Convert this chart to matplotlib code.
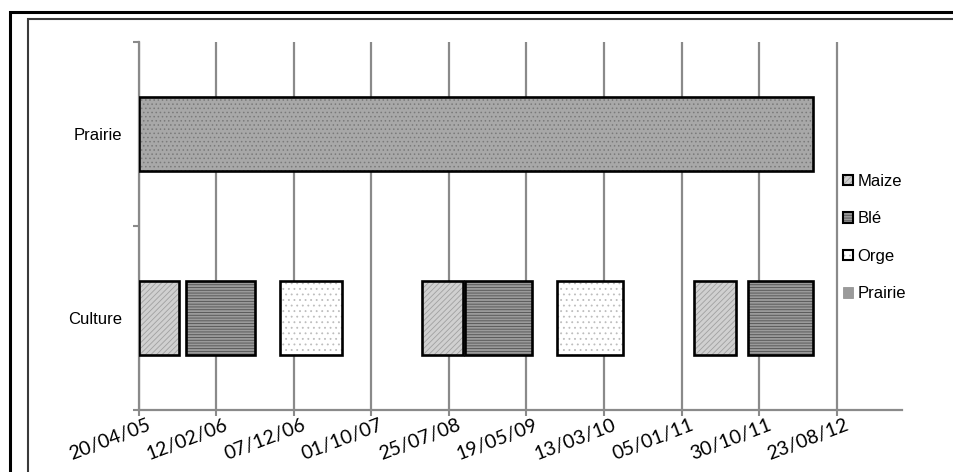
import matplotlib
matplotlib.use('Agg')
import matplotlib.pyplot as plt
import matplotlib.dates as mdates
from matplotlib.patches import Patch, Rectangle
from matplotlib.transforms import ScaledTranslation
from datetime import datetime

# ---------------- data ----------------
categories = ['Culture', 'Prairie']
tick_labels = ['20/04/05', '12/02/06', '07/12/06', '01/10/07', '25/07/08',
               '19/05/09', '13/03/10', '05/01/11', '30/10/11', '23/08/12']
axis_end = '2013-04-30'

maize_start = ['2005-04-20', '2008-04-11', '2011-02-23']
maize_end = ['2005-09-23', '2008-09-19', '2011-08-02']
ble_start = ['2005-10-21', '2008-09-26', '2011-09-18']
ble_end = ['2006-07-12', '2009-06-09', '2012-05-22']
orge_start = ['2006-10-14', '2009-09-13']
orge_end = ['2007-06-12', '2010-05-24']
prairie_start = ['2005-04-20']
prairie_end = ['2012-05-23']

series_names = ['Maize', 'Blé', 'Orge', 'Prairie']

# ---------------- figure ----------------
plt.rcParams['hatch.linewidth'] = 0.6
W, H = 954, 472
fig = plt.figure(figsize=(W / 100, H / 100), dpi=100)
ax = fig.add_axes([138.5 / W, 1 - 410 / H, (902 - 138.5) / W, (410 - 42) / H])

def dn(s, fmt='%Y-%m-%d'):
    return mdates.date2num(datetime.strptime(s, fmt))

styles = {
    'Maize': dict(face='#d0d0d0', hatch='//////', hc='#a0a0a0', cat='Culture'),
    'Blé': dict(face='#9a9a9a', hatch='------', hc='#505050', cat='Culture'),
    'Orge': dict(face='#ffffff', hatch='...', hc='#bdbdbd', cat='Culture'),
    'Prairie': dict(face='#a8a8a8', hatch='....', hc='#7a7a7a', cat='Prairie'),
}
data = {
    'Maize': (maize_start, maize_end),
    'Blé': (ble_start, ble_end),
    'Orge': (orge_start, orge_end),
    'Prairie': (prairie_start, prairie_end),
}

ypos = {c: i + 0.5 for i, c in enumerate(categories)}
handles = []
for name in series_names:
    st = styles[name]
    starts, ends = data[name]
    left = [dn(s) for s in starts]
    width = [dn(e) - dn(s) for s, e in zip(starts, ends)]
    y = [ypos[st['cat']]] * len(left)
    ax.barh(y, width, left=left, height=0.4, color=st['face'],
            edgecolor=st['hc'], linewidth=0, hatch=st['hatch'], zorder=2)
    ax.barh(y, width, left=left, height=0.4, fill=False,
            edgecolor='black', linewidth=1.9, zorder=3)
    if name == 'Prairie':
        handles.append(Patch(facecolor='#9a9a9a', edgecolor='#8a8a8a', linewidth=0.5))
    else:
        h1 = Patch(facecolor=st['face'], edgecolor=st['hc'], linewidth=0, hatch=st['hatch'])
        h2 = Patch(fill=False, edgecolor='black', linewidth=1.5)
        handles.append((h1, h2))

gray = '#8a8a8a'
ax.set_xlim(dn(tick_labels[0], '%d/%m/%y'), dn(axis_end))
ax.set_ylim(0, 2)

tick_pos = [dn(t, '%d/%m/%y') for t in tick_labels]
ax.set_xticks(tick_pos)
ax.set_xticklabels(tick_labels, rotation=21, ha='right', va='center',
                   rotation_mode='anchor', fontsize=14, family=['Lato', 'DejaVu Sans'])
ax.tick_params(axis='x', length=4.5, width=1.5, color=gray, pad=2)
ax.grid(axis='x', color=gray, linewidth=1.6)
ax.set_axisbelow(True)

ax.set_yticks([0, 1, 2])
ax.set_yticklabels([])
ax.set_yticks([0.5, 1.5], minor=True)
ax.set_yticklabels(categories, minor=True, fontsize=12, family=['Liberation Sans', 'DejaVu Sans'])
ax.tick_params(axis='y', which='major', length=4.5, width=1.5, color=gray)
ax.tick_params(axis='y', which='minor', length=0, pad=11.5)

for s in ['top', 'right']:
    ax.spines[s].set_visible(False)
for s in ['left', 'bottom']:
    ax.spines[s].set_color(gray)
    ax.spines[s].set_linewidth(1.6)

offset = ScaledTranslation(11 / 100, -5 / 100, fig.dpi_scale_trans)
for lbl in ax.get_xticklabels():
    lbl.set_transform(lbl.get_transform() + offset)

leg = fig.legend(handles, series_names, loc='center left',
                 bbox_to_anchor=(843 / W, 1 - 237.5 / H), frameon=False,
                 prop={'family': ['Liberation Sans', 'DejaVu Sans'], 'size': 12},
                 handlelength=0.6, handleheight=0.6, handletextpad=0.25,
                 labelspacing=1.35, borderpad=0, borderaxespad=0)

# outer frames
fig.add_artist(Rectangle((10 / W, -0.5), 5, 1 - 12 / H + 0.5, transform=fig.transFigure,
                         fill=False, edgecolor='black', linewidth=2.2, clip_on=False))
fig.add_artist(Rectangle((28 / W, -0.5), 5, 1 - 19 / H + 0.5, transform=fig.transFigure,
                         fill=False, edgecolor='#3a3a3a', linewidth=1.5, clip_on=False))

fig.savefig('out.png', dpi=100)
